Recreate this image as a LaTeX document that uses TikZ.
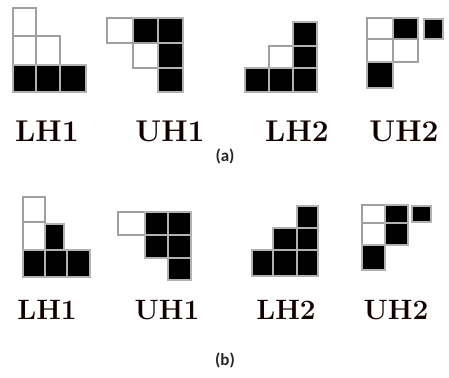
\documentclass[tikz,border=0pt]{standalone}
\usepackage{fontspec}
\newfontfamily\capfont{Carlito}
\begin{document}
\begin{tikzpicture}[x=1pt,y=-1pt,
  wcell/.style={draw=gray!75,line width=2pt,fill=white},
  bcell/.style={draw=gray!60,line width=2pt,fill=black},
  lbl/.style={font=\fontsize{30}{30}\selectfont\bfseries,text=black!93!red,inner sep=0pt},
  lblb/.style={font=\fontsize{28}{28}\selectfont\bfseries,text=black!93!red,inner sep=0pt},
  captext/.style={font=\capfont\fontsize{17}{17}\selectfont\bfseries,text=black!85,inner sep=0pt}]
\useasboundingbox (0,0) rectangle (449,377);
\newcommand\Wc[4]{\draw[wcell] (#1,#2) rectangle (#3,#4);}
\newcommand\Bc[4]{\draw[bcell] (#1,#2) rectangle (#3,#4);}
% ---------- (a) LH1
\Wc{13}{8}{36}{36}
\Wc{13}{36}{36}{65}\Wc{36}{36}{60}{65}
\Bc{13}{65}{36}{92}\Bc{36}{65}{60}{92}\Bc{60}{65}{86}{92}
% ---------- (a) UH1
\Wc{107}{18}{133}{43}\Bc{133}{18}{158}{43}\Bc{158}{18}{183}{43}
\Wc{133}{43}{158}{68}\Bc{158}{43}{183}{68}
\Bc{158}{68}{183}{92}
% ---------- (a) LH2
\Bc{293}{22}{317}{46}
\Wc{269}{46}{293}{68}\Bc{293}{46}{317}{68}
\Bc{245}{68}{269}{92}\Bc{269}{68}{293}{92}\Bc{293}{68}{317}{92}
% ---------- (a) UH2
\Wc{367}{18}{393}{39}\Bc{393}{18}{418}{39}\Bc{424}{19}{443}{39}
\Wc{367}{39}{393}{62}\Wc{393}{39}{418}{62}
\Bc{367}{62}{393}{88}
% ---------- (b) LH1
\Wc{23}{197}{45}{222}
\Wc{23}{222}{45}{250}\Bc{45}{224}{64}{250}
\Bc{23}{250}{45}{277}\Bc{45}{250}{67}{277}\Bc{67}{250}{90}{277}
% ---------- (b) UH1
\Wc{118}{212}{145}{235}\Bc{145}{212}{168}{235}\Bc{168}{212}{191}{235}
\Bc{145}{235}{168}{258}\Bc{168}{235}{191}{258}
\Bc{168}{258}{191}{280}
% ---------- (b) LH2
\Bc{297}{206}{318}{228}
\Bc{273}{228}{297}{250}\Bc{297}{228}{318}{250}
\Bc{252}{250}{273}{276}\Bc{273}{250}{297}{276}\Bc{297}{250}{318}{276}
% ---------- (b) UH2
\Wc{362}{205}{385}{223}\Bc{385}{205}{408}{223}\Bc{412}{206}{431}{222}
\Wc{362}{223}{385}{245}\Bc{385}{223}{408}{245}
\Bc{362}{245}{385}{270}
% ---------- labels
\node[lbl] (a1) at (47,131) {LH1};
\node[lbl] (a2) at (170,131) {UH1};
\node[lbl] (a3) at (297,131) {LH2};
\node[lbl] (a4) at (404,131) {UH2};
\node[captext] (ca) at (225,156) {(a)};
\node[lblb] (b1) at (47,310) {LH1};
\node[lblb] (b2) at (167,310) {UH1};
\node[lblb] (b3) at (286,310) {LH2};
\node[lblb] (b4) at (396,310) {UH2};
\node[captext] (cb) at (225,360) {(b)};
\end{tikzpicture}
\end{document}
